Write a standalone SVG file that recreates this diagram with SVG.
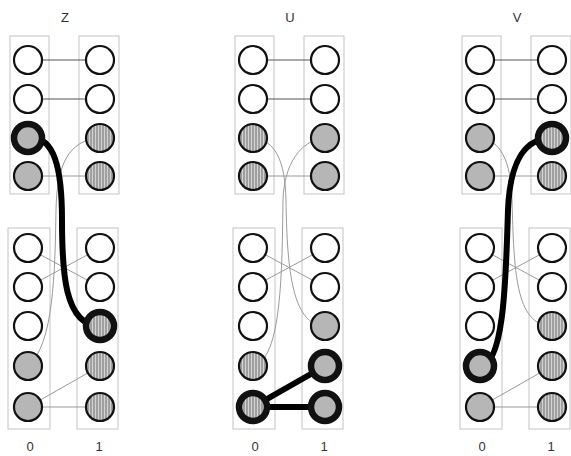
<svg xmlns="http://www.w3.org/2000/svg" width="571" height="456" viewBox="0 0 571 456">
<style>
.box{fill:none;stroke:#c4c4c4;stroke-width:1}
.n{stroke:#111;stroke-width:2.2;fill:#fff}
.g{fill:#b6b6b6}
.h{fill:url(#hatch)}
.tk{stroke-width:6.5}
.ln{stroke:#555;stroke-width:1;fill:none}
.lg{stroke:#9a9a9a;stroke-width:1;fill:none}
.tc{stroke:#000;stroke-width:6;fill:none;stroke-linecap:round}
text{font-family:"Liberation Sans",Arial,sans-serif;font-size:13px;fill:#333;text-anchor:middle}
</style>
<defs>
<pattern id="hatch" patternUnits="userSpaceOnUse" width="3" height="3">
<rect width="3" height="3" fill="#d2d2d2"/>
<line x1="1" y1="0" x2="1" y2="3" stroke="#6e6e6e" stroke-width="1"/>
</pattern>
</defs>
<rect width="571" height="456" fill="#fff"/>

<g id="boxes">
<rect class="box" x="10" y="36" width="39" height="158"/>
<rect class="box" x="79" y="36" width="40" height="158"/>
<rect class="box" x="8" y="228" width="42" height="201"/>
<rect class="box" x="77" y="228" width="41" height="201"/>
<rect class="box" x="235" y="36" width="39" height="158"/>
<rect class="box" x="304" y="36" width="40" height="158"/>
<rect class="box" x="233" y="228" width="42" height="201"/>
<rect class="box" x="302" y="228" width="41" height="201"/>
<rect class="box" x="462" y="36" width="39" height="158"/>
<rect class="box" x="531" y="36" width="40" height="158"/>
<rect class="box" x="460" y="228" width="42" height="201"/>
<rect class="box" x="529" y="228" width="41" height="201"/>
</g>

<g id="connectors">
<!-- Z -->
<line class="ln" x1="28" y1="60" x2="100" y2="60"/>
<line class="ln" x1="28" y1="99" x2="100" y2="99"/>
<line class="lg" x1="28" y1="176" x2="100" y2="176"/>
<path class="lg" d="M100,138 C68,140 57,165 56,210 C55,270 54,345 28,366"/>
<line class="lg" x1="28" y1="248" x2="100" y2="287"/>
<line class="lg" x1="28" y1="287" x2="100" y2="248"/>
<line class="lg" x1="28" y1="407" x2="100" y2="366"/>
<line class="lg" x1="28" y1="407" x2="100" y2="407"/>
<path class="tc" d="M28,138 C55,135 62,170 62,220 C62,270 64,326 100,326"/>
<!-- U -->
<line class="ln" x1="253" y1="60" x2="325" y2="60"/>
<line class="ln" x1="253" y1="99" x2="325" y2="99"/>
<line class="lg" x1="253" y1="176" x2="325" y2="176"/>
<path class="lg" d="M253,138 C275,140 285,160 286,200 C287,260 290,326 325,326"/>
<path class="lg" d="M325,138 C300,140 284,165 283,200 C282,270 282,360 253,366"/>
<line class="lg" x1="253" y1="248" x2="325" y2="287"/>
<line class="lg" x1="253" y1="287" x2="325" y2="248"/>
<line class="tc" x1="253" y1="407" x2="325" y2="366"/>
<line class="tc" x1="253" y1="407" x2="325" y2="407"/>
<!-- V -->
<line class="ln" x1="480" y1="60" x2="552" y2="60"/>
<line class="ln" x1="480" y1="99" x2="552" y2="99"/>
<line class="lg" x1="480" y1="176" x2="552" y2="176"/>
<path class="lg" d="M480,138 C500,140 511,160 512,200 C514,270 515,326 552,326"/>
<line class="lg" x1="480" y1="248" x2="552" y2="287"/>
<line class="lg" x1="480" y1="287" x2="552" y2="248"/>
<line class="lg" x1="480" y1="407" x2="552" y2="366"/>
<line class="lg" x1="480" y1="407" x2="552" y2="407"/>
<path class="tc" d="M552,138 C525,138 510,160 508,210 C506,270 505,366 480,366"/>
</g>

<g id="Z-t-L1"><circle class="n" cx="28" cy="60" r="14"/></g>
<g id="Z-t-L2"><circle class="n" cx="28" cy="99" r="14"/></g>
<g id="Z-t-L3"><circle class="n g tk" cx="28" cy="138" r="14"/></g>
<g id="Z-t-L4"><circle class="n g" cx="28" cy="176" r="14"/></g>
<g id="Z-t-R1"><circle class="n" cx="100" cy="60" r="14"/></g>
<g id="Z-t-R2"><circle class="n" cx="100" cy="99" r="14"/></g>
<g id="Z-t-R3"><circle class="n h" cx="100" cy="138" r="14"/></g>
<g id="Z-t-R4"><circle class="n h" cx="100" cy="176" r="14"/></g>
<g id="Z-b-L1"><circle class="n" cx="28" cy="248" r="14"/></g>
<g id="Z-b-L2"><circle class="n" cx="28" cy="287" r="14"/></g>
<g id="Z-b-L3"><circle class="n" cx="28" cy="326" r="14"/></g>
<g id="Z-b-L4"><circle class="n g" cx="28" cy="366" r="14"/></g>
<g id="Z-b-L5"><circle class="n g" cx="28" cy="407" r="14"/></g>
<g id="Z-b-R1"><circle class="n" cx="100" cy="248" r="14"/></g>
<g id="Z-b-R2"><circle class="n" cx="100" cy="287" r="14"/></g>
<g id="Z-b-R3"><circle class="n h tk" cx="100" cy="326" r="14"/></g>
<g id="Z-b-R4"><circle class="n h" cx="100" cy="366" r="14"/></g>
<g id="Z-b-R5"><circle class="n h" cx="100" cy="407" r="14"/></g>

<g id="U-t-L1"><circle class="n" cx="253" cy="60" r="14"/></g>
<g id="U-t-L2"><circle class="n" cx="253" cy="99" r="14"/></g>
<g id="U-t-L3"><circle class="n h" cx="253" cy="138" r="14"/></g>
<g id="U-t-L4"><circle class="n h" cx="253" cy="176" r="14"/></g>
<g id="U-t-R1"><circle class="n" cx="325" cy="60" r="14"/></g>
<g id="U-t-R2"><circle class="n" cx="325" cy="99" r="14"/></g>
<g id="U-t-R3"><circle class="n g" cx="325" cy="138" r="14"/></g>
<g id="U-t-R4"><circle class="n g" cx="325" cy="176" r="14"/></g>
<g id="U-b-L1"><circle class="n" cx="253" cy="248" r="14"/></g>
<g id="U-b-L2"><circle class="n" cx="253" cy="287" r="14"/></g>
<g id="U-b-L3"><circle class="n" cx="253" cy="326" r="14"/></g>
<g id="U-b-L4"><circle class="n h" cx="253" cy="366" r="14"/></g>
<g id="U-b-L5"><circle class="n h tk" cx="253" cy="407" r="14"/></g>
<g id="U-b-R1"><circle class="n" cx="325" cy="248" r="14"/></g>
<g id="U-b-R2"><circle class="n" cx="325" cy="287" r="14"/></g>
<g id="U-b-R3"><circle class="n g" cx="325" cy="326" r="14"/></g>
<g id="U-b-R4"><circle class="n g tk" cx="325" cy="366" r="14"/></g>
<g id="U-b-R5"><circle class="n g tk" cx="325" cy="407" r="14"/></g>

<g id="V-t-L1"><circle class="n" cx="480" cy="60" r="14"/></g>
<g id="V-t-L2"><circle class="n" cx="480" cy="99" r="14"/></g>
<g id="V-t-L3"><circle class="n g" cx="480" cy="138" r="14"/></g>
<g id="V-t-L4"><circle class="n g" cx="480" cy="176" r="14"/></g>
<g id="V-t-R1"><circle class="n" cx="552" cy="60" r="14"/></g>
<g id="V-t-R2"><circle class="n" cx="552" cy="99" r="14"/></g>
<g id="V-t-R3"><circle class="n h tk" cx="552" cy="138" r="14"/></g>
<g id="V-t-R4"><circle class="n h" cx="552" cy="176" r="14"/></g>
<g id="V-b-L1"><circle class="n" cx="480" cy="248" r="14"/></g>
<g id="V-b-L2"><circle class="n" cx="480" cy="287" r="14"/></g>
<g id="V-b-L3"><circle class="n" cx="480" cy="326" r="14"/></g>
<g id="V-b-L4"><circle class="n g tk" cx="480" cy="366" r="14"/></g>
<g id="V-b-L5"><circle class="n g" cx="480" cy="407" r="14"/></g>
<g id="V-b-R1"><circle class="n" cx="552" cy="248" r="14"/></g>
<g id="V-b-R2"><circle class="n" cx="552" cy="287" r="14"/></g>
<g id="V-b-R3"><circle class="n h" cx="552" cy="326" r="14"/></g>
<g id="V-b-R4"><circle class="n h" cx="552" cy="366" r="14"/></g>
<g id="V-b-R5"><circle class="n h" cx="552" cy="407" r="14"/></g>

<g id="labels">
<text x="65" y="22">Z</text>
<text x="290" y="22">U</text>
<text x="517" y="22">V</text>
<text x="30" y="451">0</text>
<text x="99" y="451">1</text>
<text x="255" y="451">0</text>
<text x="324" y="451">1</text>
<text x="482" y="451">0</text>
<text x="551" y="451">1</text>
</g>
</svg>
